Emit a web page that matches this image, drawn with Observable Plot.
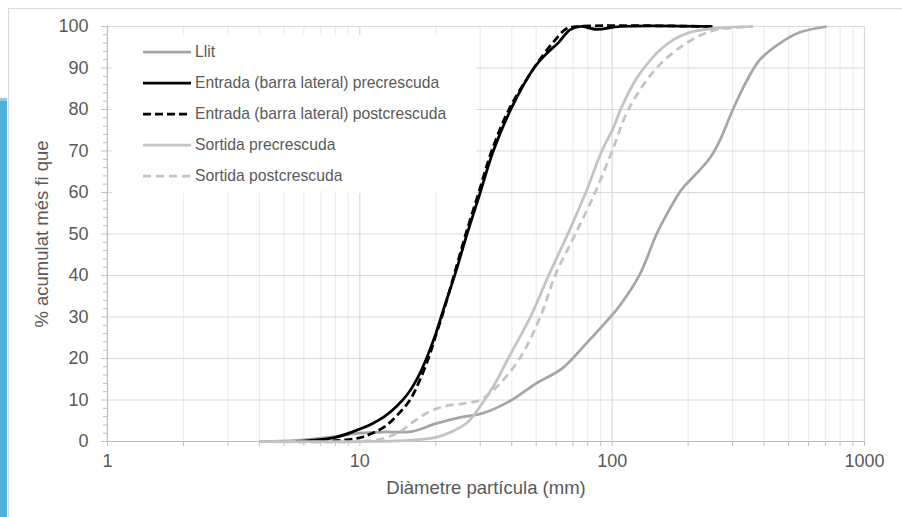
<!DOCTYPE html>
<html>
<head>
<meta charset="utf-8">
<script src="https://cdn.jsdelivr.net/npm/d3@7"></script>
<script src="https://cdn.jsdelivr.net/npm/@observablehq/plot@0.6"></script>
<style>
  html, body { margin: 0; padding: 0; background: #fff; }
  #wrap { position: relative; width: 902px; height: 517px; overflow: hidden; background: #fff; }
  #band { position: absolute; left: 0; top: 98px; width: 7px; height: 419px; background: #4eb1da; border-top: 3px solid #8dcbe6; box-sizing: border-box; }
  #border { position: absolute; left: 8px; top: 8px; right: -2px; bottom: -2px; border-top: 1px solid #d9d9d9; border-left: 1px solid #d9d9d9; }
  #chart { position: absolute; left: 0; top: 0; }
</style>
</head>
<body>
<div id="wrap">
  <div id="band"></div>
  <div id="border"></div>
  <div id="chart"></div>
</div>
<script>
// Particle size distribution curves: cumulative % finer than each diameter (mm)
const llitMm  = [4, 5.6, 8, 10, 12.5, 16, 20, 25, 31, 40, 50, 63, 80, 100, 108, 129, 150, 169, 189, 216, 244, 267, 301, 342, 385, 463, 555, 708];
const llitPct = [0, 0.3, 1.2, 2, 2.3, 2.4, 4.3, 5.8, 6.9, 10, 14, 17.5, 24, 30.5, 33, 40.4, 50, 56, 60.8, 64.6, 68.3, 72.5, 80, 87, 92, 96, 98.6, 100];

const entradaPreMm  = [5.6, 8, 10, 11.2, 12.5, 14, 15.5, 17, 18.5, 20, 21.5, 23.9, 26.6, 30, 33.8, 40, 49, 55, 61, 68, 75, 87, 108, 250];
const entradaPrePct = [0, 1, 3, 4.3, 6, 8.5, 11.5, 15.5, 20.5, 26, 32, 40.5, 50, 60, 70, 80.5, 90, 93.5, 96, 99.2, 100, 99.3, 100, 100];

const entradaPostMm  = [5.6, 8, 10, 11.2, 12.5, 14, 15.8, 17.2, 18.7, 20, 21.5, 23.6, 26.3, 29.6, 33.3, 39, 49, 58, 66, 72, 250];
const entradaPostPct = [0, 0.2, 0.9, 2, 3.5, 6.2, 10, 14.5, 20, 25.5, 31.5, 40, 50, 60, 70, 80, 90, 96, 99.5, 100, 100];

const sortidaPreMm  = [4, 10, 15, 20, 23, 26.6, 30, 34, 38.7, 47.4, 56, 66.7, 78.6, 91, 101, 108, 125, 159, 197, 251, 362];
const sortidaPrePct = [0, 0, 0.2, 1, 2.3, 4.5, 8.5, 13.5, 20, 30, 40, 50, 60, 70, 75.5, 80, 87.5, 95, 98.3, 99.5, 100];

const sortidaPostMm  = [4, 10, 12.5, 14.5, 16.5, 19, 22, 26, 30, 33, 36, 43, 51.9, 59.4, 71.5, 85.6, 100, 116, 150, 197, 251, 362];
const sortidaPostPct = [0, 0, 0.8, 2.5, 5, 7.3, 8.6, 9.2, 10, 11.8, 14, 20, 30, 40, 50, 60, 70, 80, 90, 96, 99, 100];

const seriesNames = [
  "Llit",
  "Entrada (barra lateral) precrescuda",
  "Entrada (barra lateral) postcrescuda",
  "Sortida precrescuda",
  "Sortida postcrescuda"
];

// Axis ticks
const xMajorTicks = [1, 10, 100, 1000];
const xMinorTicks = [1, 10, 100].flatMap(d => [2, 3, 4, 5, 6, 7, 8, 9].map(k => k * d));
const yMajorTicks = d3.range(0, 101, 10);
const yMinorTicks = d3.range(0, 101, 2).filter(v => v % 10 !== 0);

const xTitle = "Diàmetre partícula (mm)";
const yTitle = "% acumulat més fi que";

// Line styles per series
const styles = [
  {stroke: "#a6a6a6", dash: null, width: 2.75},
  {stroke: "#000000", dash: null, width: 2.75},
  {stroke: "#000000", dash: "8,4", width: 2.75},
  {stroke: "#c3c3c3", dash: null, width: 2.75},
  {stroke: "#c3c3c3", dash: "8,5", width: 2.75}
];

const toRows = (mm, pct, name) => mm.map((d, i) => ({series: name, d, p: pct[i]}));
const series = [
  toRows(llitMm, llitPct, seriesNames[0]),
  toRows(entradaPreMm, entradaPrePct, seriesNames[1]),
  toRows(entradaPostMm, entradaPostPct, seriesNames[2]),
  toRows(sortidaPreMm, sortidaPrePct, seriesNames[3]),
  toRows(sortidaPostMm, sortidaPostPct, seriesNames[4])
];

const textColor = "#595959";

const chart = Plot.plot({
  width: 902,
  height: 517,
  marginLeft: 107,
  marginRight: 38,
  marginTop: 26,
  marginBottom: 76,
  style: {fontFamily: "'Liberation Sans', Arial, sans-serif", color: textColor, background: "transparent", overflow: "visible"},
  x: {type: "log", domain: [1, 1000]},
  y: {domain: [0, 100]},
  marks: [
    Plot.gridX(xMinorTicks, {stroke: "#ededed", strokeOpacity: 1, strokeWidth: 1.2}),
    Plot.gridX(xMajorTicks, {stroke: "#d9d9d9", strokeOpacity: 1, strokeWidth: 1.2}),
    Plot.gridY(yMajorTicks, {stroke: "#d9d9d9", strokeOpacity: 1, strokeWidth: 1.2}),
    Plot.ruleX([1], {stroke: "#bfbfbf", strokeWidth: 1.2}),
    Plot.ruleY([0], {stroke: "#bfbfbf", strokeWidth: 1.2}),
    Plot.axisY(yMinorTicks, {tickSize: 4, tickFormat: () => "", stroke: "#bfbfbf", label: null}),
    Plot.axisY(yMajorTicks, {tickSize: 6, tickPadding: 13, fontSize: 18, stroke: "#bfbfbf", fill: textColor, label: null}),
    Plot.axisX(xMinorTicks, {tickSize: 5, tickFormat: () => "", stroke: "#bfbfbf", label: null}),
    Plot.axisX(xMajorTicks, {tickSize: 5, tickPadding: 8, fontSize: 18, tickFormat: d => String(d), stroke: "#bfbfbf", fill: textColor, label: null}),
    Plot.text([xTitle], {frameAnchor: "bottom", dy: 52, fontSize: 18.5, fill: textColor}),
    Plot.text([yTitle], {frameAnchor: "left", textAnchor: "middle", dx: -65, rotate: -90, fontSize: 18.5, fill: textColor}),
    ...series.map((rows, i) => Plot.line(rows, {
      x: "d", y: "p",
      curve: "catmull-rom",
      stroke: styles[i].stroke,
      strokeWidth: styles[i].width,
      strokeDasharray: styles[i].dash,
      strokeLinecap: "butt"
    }))
  ]
});

// Legend inside the plot area, on a white box over the grid
const svg = d3.select(chart);
const legend = svg.append("g").attr("text-anchor", "start");
legend.append("rect")
  .attr("x", 112).attr("y", 35).attr("width", 364).attr("height", 158)
  .attr("fill", "#fff");
seriesNames.forEach((name, i) => {
  const y = 52 + i * 31;
  legend.append("line")
    .attr("x1", 143).attr("x2", 191).attr("y1", y).attr("y2", y)
    .attr("stroke", styles[i].stroke)
    .attr("stroke-width", styles[i].width)
    .attr("stroke-dasharray", styles[i].dash);
  legend.append("text")
    .attr("x", 195).attr("y", y).attr("dy", "0.35em")
    .attr("text-anchor", "start")
    .attr("font-size", 15.7)
    .attr("fill", textColor)
    .text(name);
});

document.getElementById("chart").appendChild(chart);
</script>
</body>
</html>
